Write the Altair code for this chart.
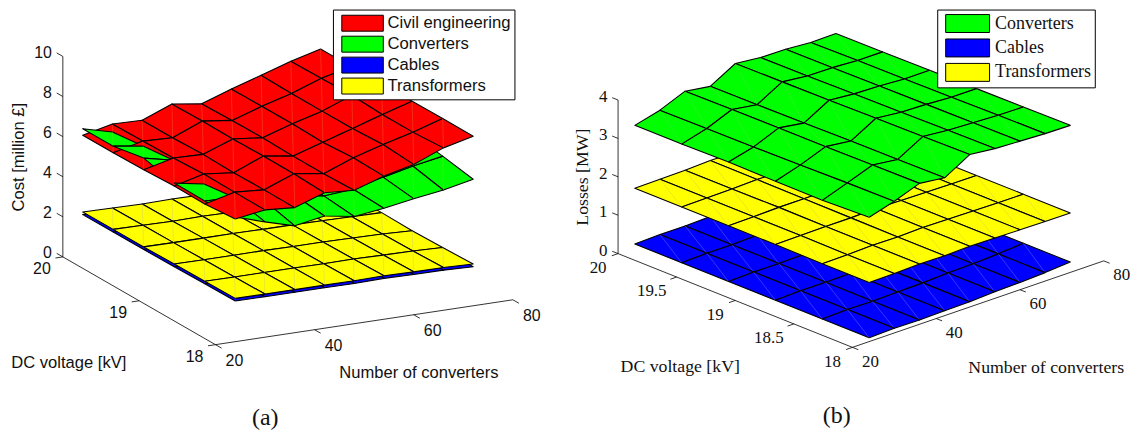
import altair as alt
import pandas as pd

N_NODES = [24, 30, 36, 42, 48, 54, 60, 66, 72]
V_NODES = [18.0, 18.4, 18.8, 19.2, 19.6, 20.0]

SERIES_A = ["Civil engineering", "Converters", "Cables", "Transformers"]
SERIES_B = ["Converters", "Cables", "Transformers"]
COLORS = {"Civil engineering": "#ff0000", "Converters": "#00ff00", "Cables": "#0000ff", "Transformers": "#ffff00"}

# Cost surfaces, million pounds: one row per voltage (18 ... 20), one column per converter count
COST_CIVIL = [
    [6.12, 6.35, 6.24, 6.76, 6.66, 7.14, 7.50, 8.10, 8.46],
    [5.99, 6.36, 6.25, 6.83, 6.61, 7.18, 7.62, 8.01, 8.47],
    [6.01, 6.39, 6.23, 6.84, 6.61, 7.08, 7.54, 8.01, 8.45],
    [5.95, 6.31, 6.27, 6.81, 6.65, 7.12, 7.53, 8.10, 8.44],
    [5.92, 6.28, 6.22, 6.83, 6.64, 7.12, 7.53, 8.07, 8.42],
    [5.92, 6.26, 6.22, 6.81, 6.59, 7.11, 7.57, 8.04, 8.43],
]
COST_CONV = [
    [6.22, 5.75, 5.33, 5.60, 5.35, 5.54, 5.79, 6.00, 6.31],
    [6.14, 6.09, 5.72, 5.78, 5.50, 5.61, 5.99, 6.32, 6.59],
    [6.16, 5.89, 5.80, 6.01, 5.72, 5.83, 6.14, 6.50, 6.81],
    [6.53, 6.20, 5.98, 6.19, 5.90, 6.01, 6.32, 6.68, 6.99],
    [6.25, 6.03, 6.06, 6.27, 5.98, 6.19, 6.50, 6.86, 7.17],
    [6.24, 5.86, 6.04, 6.35, 6.06, 6.27, 6.63, 6.99, 7.30],
]
COST_TRAFO = [
    [2.16, 2.15, 2.15, 2.15, 2.14, 2.17, 2.14, 2.13, 2.08],
    [2.14, 2.13, 2.13, 2.13, 2.12, 2.13, 2.10, 2.08, 2.03],
    [2.12, 2.11, 2.11, 2.12, 2.10, 2.10, 2.08, 2.05, 1.99],
    [2.10, 2.09, 2.09, 2.10, 2.08, 2.08, 2.06, 2.04, 2.02],
    [2.10, 2.08, 2.06, 2.08, 2.06, 2.06, 2.04, 2.02, 2.00],
    [2.09, 2.07, 2.04, 2.07, 2.05, 2.03, 2.02, 2.01, 1.99],
]
COST_CABLE = [
    [2.03, 2.02, 2.02, 2.02, 2.01, 2.04, 2.01, 2.00, 1.95],
    [2.01, 2.00, 2.00, 2.00, 1.99, 2.00, 1.97, 1.95, 1.90],
    [1.99, 1.98, 1.98, 1.99, 1.97, 1.97, 1.95, 1.92, 1.86],
    [1.97, 1.96, 1.96, 1.97, 1.95, 1.95, 1.93, 1.91, 1.89],
    [1.97, 1.95, 1.93, 1.95, 1.93, 1.93, 1.91, 1.89, 1.87],
    [1.96, 1.94, 1.91, 1.94, 1.92, 1.90, 1.89, 1.88, 1.86],
]
# Losses surfaces, MW
LOSS_CONV = [
    [3.24, 3.43, 3.67, 3.59, 3.97, 3.90, 3.87, 3.84, 3.83],
    [3.19, 3.42, 3.66, 3.58, 3.95, 3.89, 3.86, 3.83, 3.82],
    [3.20, 3.40, 3.65, 3.57, 3.94, 3.87, 3.85, 3.81, 3.81],
    [3.21, 3.38, 3.65, 3.55, 3.92, 3.86, 3.84, 3.80, 3.80],
    [3.19, 3.37, 3.64, 3.54, 3.91, 3.84, 3.83, 3.79, 3.79],
    [3.19, 3.36, 3.63, 3.53, 3.90, 3.83, 3.82, 3.77, 3.78],
]
LOSS_TRAFO = [
    [1.54, 1.55, 1.57, 1.56, 1.58, 1.57, 1.56, 1.55, 1.55],
    [1.54, 1.55, 1.57, 1.56, 1.58, 1.57, 1.56, 1.55, 1.55],
    [1.55, 1.56, 1.57, 1.57, 1.59, 1.57, 1.56, 1.55, 1.55],
    [1.55, 1.56, 1.58, 1.58, 1.59, 1.58, 1.57, 1.56, 1.55],
    [1.55, 1.56, 1.57, 1.59, 1.59, 1.58, 1.57, 1.56, 1.55],
    [1.55, 1.56, 1.57, 1.60, 1.59, 1.58, 1.57, 1.56, 1.55],
]
LOSS_CABLE = [
    [0.10, 0.12, 0.11, 0.13, 0.135, 0.17, 0.19, 0.22, 0.27],
    [0.10, 0.12, 0.11, 0.13, 0.14, 0.17, 0.19, 0.22, 0.27],
    [0.10, 0.12, 0.12, 0.13, 0.14, 0.17, 0.19, 0.22, 0.27],
    [0.10, 0.12, 0.12, 0.13, 0.14, 0.17, 0.19, 0.22, 0.27],
    [0.10, 0.12, 0.12, 0.14, 0.15, 0.17, 0.20, 0.23, 0.27],
    [0.10, 0.12, 0.12, 0.14, 0.15, 0.18, 0.20, 0.23, 0.27],
]
# Converter cells that were painted over the civil-engineering sheet (i, j)
GREEN_ON_TOP = [(0, 4), (0, 3), (0, 1)]

Z_TICKS_A = [0, 2, 4, 6, 8, 10]
V_TICKS_A = [18, 19, 20]
N_TICKS = [20, 40, 60, 80]
Z_TICKS_B = [0, 1, 2, 3, 4]
V_TICKS_B = [18, 18.5, 19, 19.5, 20]

SEAMS = {
    "a": {"Civil engineering": "#e86a30", "Converters": "#70e020", "Cables": "#3030ff", "Transformers": "#c4c48a"},
    "b": {"Converters": "#60d850", "Cables": "#8888ff", "Transformers": "#c8c860"},
}


def make_proj(o, a, b, c):
    def proj(n, v, z):
        return (o[0] + a[0] * (n - 20) + b[0] * (v - 18),
                o[1] + a[1] * (n - 20) + b[1] * (v - 18) + c * z)
    return proj


PA = make_proj((214.0, 344.0), (4.97, -0.75), (-76.5, -44.0), -20.1)
PB = make_proj((852.7, 346.7), (4.2, -1.445), (-117.5, -47.0), -38.5)


def add_path(rows, gid, pts, fill, stroke, width):
    for k, (x, y) in enumerate(pts):
        rows.append({"x": x, "y": y, "gid": gid, "k": k, "f": fill, "s": stroke, "w": width})


def axes_rows(rows, proj, z_ticks, v_ticks, ztop, ztick_v):
    add_path(rows, "ax0", [proj(20, 20, 0), proj(20, 20, ztop)], "none", "#000000", 0.8)
    add_path(rows, "ax1", [proj(20, 20, 0), proj(20, 18, 0)], "none", "#000000", 0.8)
    add_path(rows, "ax2", [proj(20, 18, 0), proj(80, 18, 0)], "none", "#000000", 0.8)
    for t in z_ticks:
        add_path(rows, f"zt{t}", [proj(20, 20, t), proj(20, 20 + ztick_v, t)], "none", "#000000", 0.8)
    for t in v_ticks:
        add_path(rows, f"vt{t}", [proj(20, t, 0), proj(18.5, t, 0)], "none", "#000000", 0.8)
    for t in N_TICKS:
        add_path(rows, f"nt{t}", [proj(t, 18, 0), proj(t, 18 - ztick_v, 0)], "none", "#000000", 0.8)


def surface_rows(rows, proj, surfaces, seams, top, lw):
    o = proj(20, 18, 0)
    ex = proj(80, 18, 0)
    ey = proj(20, 20, 0)
    ez = proj(20, 18, 1)
    X = (ex[0] - o[0], ey[0] - o[0], 0.0)
    Y = (o[1] - ex[1], o[1] - ey[1], o[1] - ez[1] * 1.0)
    dn = X[1] * Y[2] - X[2] * Y[1]
    dv = X[2] * Y[0] - X[0] * Y[2]
    dz = X[0] * Y[1] - X[1] * Y[0]
    cells = []
    names = list(surfaces)
    for name in names:
        grid = surfaces[name]
        for j in range(5):
            for i in range(8):
                z = (grid[j][i] + grid[j][i + 1] + grid[j + 1][i] + grid[j + 1][i + 1]) / 4
                rank = names.index(name)
                if rank + 1 < len(names):
                    g2 = surfaces[names[rank + 1]]
                    z2 = (g2[j][i] + g2[j][i + 1] + g2[j + 1][i] + g2[j + 1][i + 1]) / 4
                    if (i, j) in top and name == "Converters":
                        z = z2 + 0.01
                    else:
                        z = min(z, z2 - 0.01)
                ground = dn * i + dv * j
                cells.append((ground + dz * z, name, i, j))
    cells.sort(key=lambda c: c[0])
    for _, name, i, j in cells:
        g = surfaces[name]
        pts = [proj(N_NODES[a], V_NODES[b], g[b][a])
               for a, b in [(i, j), (i + 1, j), (i + 1, j + 1), (i, j + 1), (i, j)]]
        gid = f"{name}-{i}-{j}"
        add_path(rows, gid, pts, COLORS[name], "#000000", lw)
        add_path(rows, gid + "s", [pts[0], pts[2]], "none", seams[name], 0.4)


def panel(proj, surfaces, seams, top, lw, z_ticks, v_ticks, ztop, ztick_v, x_dom, w,
          font, tick_size, lab_size, series, legend_cfg, ticklabels, titles, caption):
    rows = []
    axes_rows(rows, proj, z_ticks, v_ticks, ztop, ztick_v)
    surface_rows(rows, proj, surfaces, seams, top, lw)
    df = pd.DataFrame(rows)
    xs = alt.X("x:Q", axis=None, scale=alt.Scale(domain=x_dom, nice=False, zero=False))
    ys = alt.Y("y:Q", axis=None, scale=alt.Scale(domain=[426, 8], nice=False, zero=False))

    mesh = alt.Chart(df).mark_line(interpolate="linear", strokeJoin="round", clip=False).encode(
        x=xs, y=ys,
        detail="gid:N",
        order="k:Q",
        fill=alt.Fill("f:N", scale=None),
        stroke=alt.Stroke("s:N", scale=None),
        strokeWidth=alt.StrokeWidth("w:Q", scale=None),
    )
    layers = [mesh]
    for align, rowsT in ticklabels.items():
        layers.append(alt.Chart(pd.DataFrame(rowsT)).mark_text(
            font=font, fontSize=tick_size, align=align, baseline="middle", color="#111111").encode(
            x=xs, y=ys, text="t:N"))
    layers.append(alt.Chart(pd.DataFrame(titles[0])).mark_text(
        font=font, fontSize=lab_size, align="center", baseline="middle", angle=270, color="#111111").encode(
        x=xs, y=ys, text="t:N"))
    layers.append(alt.Chart(pd.DataFrame(titles[1])).mark_text(
        font=font, fontSize=lab_size, align="center", baseline="middle", color="#111111").encode(
        x=xs, y=ys, text="t:N"))
    layers.append(alt.Chart(pd.DataFrame(caption)).mark_text(
        font="Liberation Serif", fontSize=24, align="center", baseline="middle", color="#111111").encode(
        x=xs, y=ys, text="t:N"))
    key = pd.DataFrame({"name": series, "x": [x_dom[0]] * len(series), "y": [100] * len(series)})
    layers.append(alt.Chart(key).mark_square(opacity=0, size=10).encode(
        x=xs, y=ys,
        fill=alt.Fill("name:N", scale=alt.Scale(domain=series, range=[COLORS[s] for s in series]),
                      legend=alt.Legend(**legend_cfg)),
    ))
    return alt.layer(*layers).properties(width=w, height=418)


def lab(proj, n, v, z, dx, dy, t):
    x, y = proj(n, v, z)
    return {"x": x + dx, "y": y + dy, "t": t}


ticks_a = {
    "right": [lab(PA, 20, 20, t, -11, -3.5, str(t)) for t in Z_TICKS_A],
    "center": [lab(PA, 20, t, 0, -21, 12.5, str(t)) for t in V_TICKS_A]
    + [lab(PA, t, 18, 0, 19, 16.5, str(t)) for t in N_TICKS],
}
ticks_b = {
    "right": [lab(PB, 20, 20, t, -10.7, -3, str(t)) for t in Z_TICKS_B],
    "center": [lab(PB, 20, t, 0, -25 if t % 1 else -20, 14.5, f"{t:g}") for t in V_TICKS_B]
    + [lab(PB, t, 18, 0, 18, 14.5, str(t)) for t in N_TICKS],
}

left = panel(
    PA,
    {"Cables": COST_CABLE, "Transformers": COST_TRAFO, "Converters": COST_CONV, "Civil engineering": COST_CIVIL},
    SEAMS["a"], GREEN_ON_TOP, 1.1, Z_TICKS_A, V_TICKS_A, 10, 0.08, [8, 568], 560,
    "Liberation Sans", 16, 16.6, SERIES_A,
    dict(title=None, orient="none", legendX=323.8, legendY=0, symbolType="M-0.48,-0.8H3.68V0.8H-0.48Z", symbolSize=400,
         symbolOpacity=1, symbolStrokeColor="#000000", symbolStrokeWidth=1, rowPadding=0,
         labelFont="Liberation Sans", labelFontSize=16.7, labelColor="#111111", labelOffset=30.5,
         strokeColor="#000000", fillColor="#ffffff", padding=3.2, labelLimit=200),
    ticks_a,
    ([{"x": 17, "y": 156, "t": "Cost [million £]"}],
     [{"x": 67, "y": 362, "t": "DC voltage [kV]"}, {"x": 418, "y": 372, "t": "Number of converters"}]),
    [{"x": 264, "y": 418, "t": "(a)"}],
)
right = panel(
    PB,
    {"Cables": LOSS_CABLE, "Transformers": LOSS_TRAFO, "Converters": LOSS_CONV},
    SEAMS["b"], [], 1.1, Z_TICKS_B, V_TICKS_B, 4, 0.05, [568, 1131], 563,
    "Liberation Serif", 17, 17.8, SERIES_B,
    dict(title=None, orient="none", legendX=369.7, legendY=0, symbolType="M-0.55,-0.9H3.85V0.9H-0.55Z", symbolSize=400,
         symbolOpacity=1, symbolStrokeColor="#000000", symbolStrokeWidth=1, rowPadding=1.5,
         labelFont="Liberation Serif", labelFontSize=18, labelColor="#111111", labelOffset=33.5,
         strokeColor="#000000", fillColor="#ffffff", padding=3.5, labelLimit=200),
    ticks_b,
    ([{"x": 583, "y": 176, "t": "Losses [MW]"}],
     [{"x": 680, "y": 366, "t": "DC voltage [kV]"}, {"x": 1047, "y": 367, "t": "Number of converters"}]),
    [{"x": 837, "y": 416, "t": "(b)"}],
)

chart = alt.hconcat(left, right, spacing=0, padding=0, bounds="flush").resolve_scale(
    x="independent", y="independent", fill="independent"
).configure_view(stroke=None)
chart.save("out.html", embed_options={"renderer": "svg", "actions": False})
